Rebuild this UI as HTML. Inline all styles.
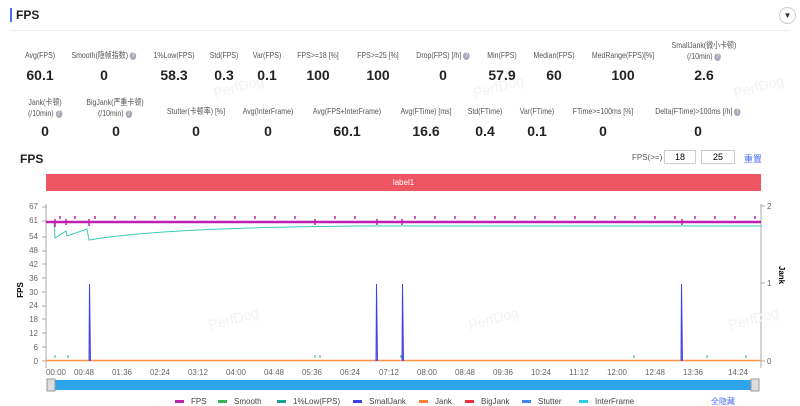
<!DOCTYPE html>
<html><head><meta charset="utf-8"><style>
body{margin:0;width:800px;height:406px;background:#fff;font-family:"Liberation Sans","Noto Sans CJK SC",sans-serif;position:relative;overflow:hidden}
.a{position:absolute;white-space:nowrap;transform:translateX(-50%);text-align:center}
.l{font-size:8.5px;color:#555;line-height:11px;transform:translateX(-50%) scaleX(0.82)}
.v{font-size:14px;font-weight:bold;color:#222}
.q{display:inline-block;width:8px;height:8px;border-radius:50%;background:#aab;color:#fff;font-size:7px;line-height:8px;vertical-align:middle}
</style></head><body>
<div style="position:absolute;left:10px;top:8px;width:2px;height:14px;background:#4a6cf7"></div>
<div style="position:absolute;left:16px;top:8px;font-size:12px;font-weight:bold;color:#222">FPS</div>
<div style="position:absolute;left:779px;top:7px;width:15px;height:15px;border:1px solid #ccc;border-radius:50%;font-size:8px;text-align:center;line-height:15px;color:#333">▼</div>
<div style="position:absolute;left:10px;top:30px;width:780px;height:1px;background:#eee"></div>

<svg width="800" height="150" style="position:absolute;left:0;top:0" font-family="Liberation Sans, sans-serif"><g font-size="14" fill="#f2f2f2"><text x="215" y="98" transform="rotate(-15 215 98)">PerfDog</text><text x="475" y="98" transform="rotate(-15 475 98)">PerfDog</text><text x="735" y="98" transform="rotate(-15 735 98)">PerfDog</text></g></svg>

<div class="a l" style="left:40px;top:50px">Avg(FPS)</div><div class="a v" style="left:40px;top:67px">60.1</div>
<div class="a l" style="left:104px;top:50px">Smooth(隐帧指数) <span class="q">?</span></div><div class="a v" style="left:104px;top:67px">0</div>
<div class="a l" style="left:174px;top:50px">1%Low(FPS)</div><div class="a v" style="left:174px;top:67px">58.3</div>
<div class="a l" style="left:224px;top:50px">Std(FPS)</div><div class="a v" style="left:224px;top:67px">0.3</div>
<div class="a l" style="left:267px;top:50px">Var(FPS)</div><div class="a v" style="left:267px;top:67px">0.1</div>
<div class="a l" style="left:318px;top:50px">FPS>=18 [%]</div><div class="a v" style="left:318px;top:67px">100</div>
<div class="a l" style="left:378px;top:50px">FPS>=25 [%]</div><div class="a v" style="left:378px;top:67px">100</div>
<div class="a l" style="left:443px;top:50px">Drop(FPS) [/h] <span class="q">?</span></div><div class="a v" style="left:443px;top:67px">0</div>
<div class="a l" style="left:502px;top:50px">Min(FPS)</div><div class="a v" style="left:502px;top:67px">57.9</div>
<div class="a l" style="left:554px;top:50px">Median(FPS)</div><div class="a v" style="left:554px;top:67px">60</div>
<div class="a l" style="left:623px;top:50px">MedRange(FPS)[%]</div><div class="a v" style="left:623px;top:67px">100</div>
<div class="a l" style="left:704px;top:40px">SmallJank(微小卡顿)<br>(/10min) <span class="q">?</span></div><div class="a v" style="left:704px;top:67px">2.6</div>

<div class="a l" style="left:45px;top:97px">Jank(卡顿)<br>(/10min) <span class="q">?</span></div><div class="a v" style="left:45px;top:123px">0</div>
<div class="a l" style="left:115px;top:97px">BigJank(严重卡顿)<br>(/10min) <span class="q">?</span></div><div class="a v" style="left:116px;top:123px">0</div>
<div class="a l" style="left:196px;top:106px">Stutter(卡顿率) [%]</div><div class="a v" style="left:196px;top:123px">0</div>
<div class="a l" style="left:268px;top:106px">Avg(InterFrame)</div><div class="a v" style="left:268px;top:123px">0</div>
<div class="a l" style="left:347px;top:106px">Avg(FPS+InterFrame)</div><div class="a v" style="left:347px;top:123px">60.1</div>
<div class="a l" style="left:426px;top:106px">Avg(FTime) [ms]</div><div class="a v" style="left:426px;top:123px">16.6</div>
<div class="a l" style="left:485px;top:106px">Std(FTime)</div><div class="a v" style="left:485px;top:123px">0.4</div>
<div class="a l" style="left:537px;top:106px">Var(FTime)</div><div class="a v" style="left:537px;top:123px">0.1</div>
<div class="a l" style="left:603px;top:106px">FTime>=100ms [%]</div><div class="a v" style="left:603px;top:123px">0</div>
<div class="a l" style="left:698px;top:106px">Delta(FTime)>100ms [/h] <span class="q">?</span></div><div class="a v" style="left:698px;top:123px">0</div>

<div style="position:absolute;left:20px;top:152px;font-size:12px;font-weight:bold;color:#222">FPS</div>
<div style="position:absolute;left:632px;top:153px;font-size:8px;color:#555">FPS(>=)</div>
<div style="position:absolute;left:664px;top:150px;width:30px;height:12px;border:1px solid #ccc;font-size:9px;text-align:center;line-height:12px">18</div>
<div style="position:absolute;left:701px;top:150px;width:32px;height:12px;border:1px solid #ccc;font-size:9px;text-align:center;line-height:12px">25</div>
<div style="position:absolute;left:744px;top:152px;font-size:9px;color:#4a6cf7">重置</div>
<div style="position:absolute;left:46px;top:174px;width:715px;height:17px;background:#ee5562;color:#fff;font-size:8px;text-align:center;line-height:17px">label1</div>

<svg width="800" height="406" style="position:absolute;left:0;top:0" font-family="Liberation Sans, sans-serif">
<g font-size="8" fill="#666" text-anchor="end">
<text x="38" y="209">67</text><text x="38" y="223">61</text><text x="38" y="239">54</text><text x="38" y="253">48</text><text x="38" y="267">42</text><text x="38" y="281">36</text><text x="38" y="295">30</text><text x="38" y="308">24</text><text x="38" y="322">18</text><text x="38" y="336">12</text><text x="38" y="350">6</text><text x="38" y="364">0</text>
</g>
<text transform="translate(23,290) rotate(-90)" font-size="8" font-weight="bold" text-anchor="middle">FPS</text>
<text transform="translate(779,275) rotate(90)" font-size="8" font-weight="bold" text-anchor="middle">Jank</text>
<g font-size="8" fill="#666"><text x="767" y="209">2</text><text x="767" y="286">1</text><text x="767" y="364">0</text></g>
<path d="M46 204V368M761 204V368M761 206h4M761 283h4M761 361h4" stroke="#aaa" stroke-width="1" fill="none"/>
<path d="M42 207h4M42 221h4M42 237h4M42 251h4M42 264h4M42 278h4M42 292h4M42 306h4M42 319h4M42 333h4M42 347h4M42 361h4" stroke="#aaa"/>
<g font-size="8" fill="#666" text-anchor="middle">
<text x="56" y="375">00:00</text><text x="84" y="375">00:48</text><text x="122" y="375">01:36</text><text x="160" y="375">02:24</text><text x="198" y="375">03:12</text><text x="236" y="375">04:00</text><text x="274" y="375">04:48</text><text x="312" y="375">05:36</text><text x="350" y="375">06:24</text><text x="389" y="375">07:12</text><text x="427" y="375">08:00</text><text x="465" y="375">08:48</text><text x="503" y="375">09:36</text><text x="541" y="375">10:24</text><text x="579" y="375">11:12</text><text x="617" y="375">12:00</text><text x="655" y="375">12:48</text><text x="693" y="375">13:36</text><text x="738" y="375">14:24</text>
</g>
<g font-size="14" fill="#f2f2f2"><text x="210" y="330" transform="rotate(-15 210 330)">PerfDog</text><text x="470" y="330" transform="rotate(-15 470 330)">PerfDog</text><text x="730" y="330" transform="rotate(-15 730 330)">PerfDog</text></g>
<path d="M46 360.5H761" stroke="#ff9040" stroke-width="1.5"/>
<path d="M55 358v-3M68 358v-3M315 358v-3M320 358v-3M401 358v-3M634 358v-3M707 358v-3M746 358v-3" stroke="#3bb060"/>
<path d="M89 361L89.5 284L90.5 361M376 361L376.5 284L377.5 361M402 361L402.5 284L403.5 361M681 361L681.5 284L682.5 361" stroke="#4040e8" fill="#8080f0"/>
<path d="M46 222L54 222L55 238L66 231L67 236L87 229L89 240C150 230 250 227 360 226L600 226L761 226" stroke="#3cc8b8" fill="none" stroke-width="1"/>
<path d="M46 222H761" stroke="#c020b0" stroke-width="2.5"/>
<g stroke="#c020b0" stroke-width="1.5"><path d="M55 219v8M66 219v6M89 219v7M315 219v6M377 219v6M402 219v6M682 219v6"/>
<path d="M60 219v-3M75 219v-3M95 219v-3M115 219v-3M135 219v-3M155 219v-3M175 219v-3M195 219v-3M215 219v-3M235 219v-3M255 219v-3M275 219v-3M295 219v-3M335 219v-3M355 219v-3M395 219v-3M415 219v-3M435 219v-3M455 219v-3M475 219v-3M495 219v-3M515 219v-3M535 219v-3M555 219v-3M575 219v-3M595 219v-3M615 219v-3M635 219v-3M655 219v-3M675 219v-3M695 219v-3M715 219v-3M735 219v-3M755 219v-3"/></g>
<rect x="50" y="380" width="707" height="10" fill="#2ea4ea"/>
<rect x="47" y="379" width="8" height="12" fill="#ddd" stroke="#999"/><rect x="751" y="379" width="8" height="12" fill="#ddd" stroke="#999"/>
<g font-size="8" fill="#444">
<rect x="175" y="400" width="9" height="3" fill="#c020b0"/><text x="191" y="404">FPS</text>
<rect x="218" y="400" width="9" height="3" fill="#3bb060"/><text x="234" y="404">Smooth</text>
<rect x="277" y="400" width="9" height="3" fill="#20a090"/><text x="293" y="404">1%Low(FPS)</text>
<rect x="353" y="400" width="9" height="3" fill="#4040e8"/><text x="369" y="404">SmallJank</text>
<rect x="419" y="400" width="9" height="3" fill="#ff8030"/><text x="435" y="404">Jank</text>
<rect x="465" y="400" width="9" height="3" fill="#e83040"/><text x="481" y="404">BigJank</text>
<rect x="522" y="400" width="9" height="3" fill="#3a8af0"/><text x="538" y="404">Stutter</text>
<rect x="579" y="400" width="9" height="3" fill="#30d0e0"/><text x="595" y="404">InterFrame</text>
<text x="711" y="404" fill="#4a6cf7">全隐藏</text></g>
</svg>
</body></html>
